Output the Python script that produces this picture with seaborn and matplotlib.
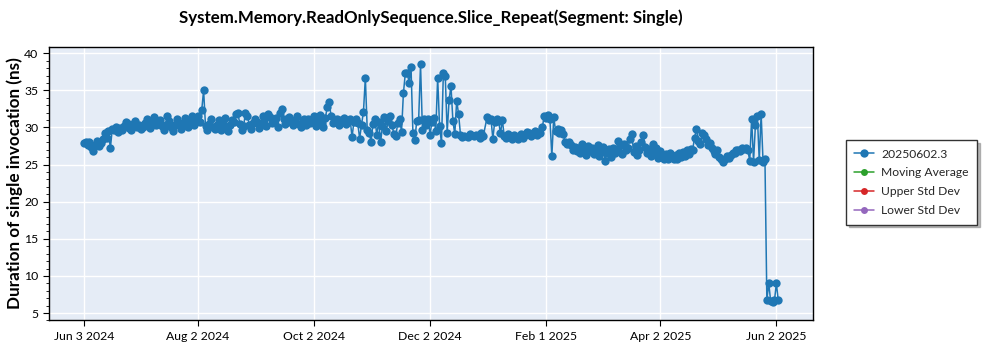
import numpy as np
import pandas as pd
import matplotlib
matplotlib.use("Agg")
import matplotlib.pyplot as plt
import matplotlib.dates as mdates
from matplotlib.ticker import FuncFormatter, MultipleLocator
import seaborn as sns

title = "System.Memory.ReadOnlySequence.Slice_Repeat(Segment: Single)"
y_label = "Duration of single invocation (ns)"
series_name = "20250602.3"
other_series = ["Moving Average", "Upper Std Dev", "Lower Std Dev"]
other_colors = ["#2ca02c", "#d62728", "#9467bd"]
start_date = "2024-06-03"

# one value per day from start_date (None = no run that day)
values = [
    27.9, 28.1, 27.6, 28.0, 27.4, 26.8, 27.7, 28.2, 27.5, 27.9,
    28.4, 29.2, 28.6, 29.5, 27.2, 29.8, 29.6, 30.0, 29.4, 29.9,
    29.7, 30.2, 30.8, 30.6, 29.9, 29.6, 30.5, 30.9, 30.1, 30.4,
    29.8, 30.0, 30.6, 31.2, 30.5, 29.9, 30.7, 31.4, 30.3, 30.8,
    31.0, 30.2, 29.6, 30.4, 31.5, 30.9, 30.1, 29.5, 30.3, 31.1,
    30.6, 29.8, 30.5, 31.3, 30.7, 30.0, 30.9, 31.5, 30.4, 31.0,
    31.6, 30.8, 32.3, 35.0, 30.2, 29.6, 30.5, 31.2, 30.0, 29.8,
    30.4, 31.0, 29.7, 30.6, 31.3, 30.1, 29.5, 30.3, 31.0, 30.8,
    31.8, 32.0, 30.5, 29.7, 30.2, 31.9, 31.6, 30.4, 29.8, 30.6,
    31.2, 30.7, 29.9, 30.3, 31.5, 31.0, 30.2, 31.8, 31.4, 30.6,
    30.9, 31.3, 30.1, 32.0, 32.5, 31.2, 30.5, 30.8, 31.4, 30.7,
    30.3, 31.0, 31.6, 30.5, 30.0, 30.9, 31.2, 30.4, 31.1, 30.6,
    30.8, 31.5, 30.2, 31.0, 31.7, 30.6, 30.1, 31.3, 32.8, 33.4,
    31.5, 30.6, 30.9, 31.2, 30.4, 31.0, 30.7, 31.3, 30.5, 30.9,
    31.1, 28.7, 30.8, 31.2, 30.6, 28.5, 30.4, 32.1, 36.7, 29.6,
    29.3, 28.1, 30.5, 31.2, 29.0, 30.8, 28.0, 30.2, 31.4, 29.5,
    30.9, 31.5, 30.3, 29.1, 28.8, 30.6, 31.2, 29.4, 34.6, 37.3,
    37.4, 36.0, 38.1, 29.2, 28.3, 30.9, 31.0, 38.5, 29.6, 31.1,
    30.4, 31.2, 29.0, 30.8, 31.3, 29.5, 36.7, 30.2, 27.9, 37.4,
    36.9, 29.3, 33.7, 35.6, 30.9, 29.1, 33.6, 31.8, 29.0, 28.7,
    28.9, None, 28.7, 29.1, None, 28.8, 29.0, None, 28.6, 29.2,
    28.9, None, 31.4, 31.0, 31.2, 28.5, 30.8, 31.1, 30.9, 29.2,
    31.0, 28.8, 28.6, 29.1, 28.8, 28.5, 29.0, 28.7, 28.4, 28.9,
    29.1, 28.6, 29.0, 29.4, 29.2, 28.8, 29.3, 29.5, 29.0, 29.4,
    29.3, 30.0, 31.6, 31.3, 31.7, 31.2, 26.1, 31.4, 29.5, 29.8,
    29.3, 29.6, 29.1, 28.0, 27.8, 28.1, 27.6, 27.0, 27.4, 26.8,
    27.2, 26.5, 27.8, 26.9, 26.3, 27.5, 26.8, 27.3, 26.4, 26.9,
    27.6, 26.2, 26.7, 27.4, 25.5, 26.6, 27.1, 26.0, 27.3, 26.5,
    27.0, 28.2, 27.6, 26.4, 27.8, 26.9, 27.2, 28.4, 29.1, 26.7,
    27.5, 26.3, 27.0, 28.0, 29.0, 27.4, 26.6, 27.1, 26.2, 27.8,
    26.5, 27.2, 25.9, 26.8, 26.1, 25.7, 26.4, 25.8, 26.6, 26.0,
    25.8, 26.3, 25.7, 26.5, 26.0, 26.7, 26.2, 26.9, 26.4, 27.1,
    27.0, 28.6, 29.8, 28.2, 27.8, 29.3, 29.0, 28.4, 27.6, 27.9,
    27.2, 26.8, 26.4, 26.9, 26.0, 25.7, 25.4, 25.8, 26.1, 25.9,
    26.3, 26.6, 26.5, 26.9, 27.0, 26.8, 27.2, 27.1, 27.3, 27.0,
    25.5, 31.2, 25.4, 30.4, 31.6, 25.6, 31.8, 25.4, 25.7, 6.8,
    9.0, 6.6, 6.5, 6.7, 9.0, 6.7,
]

x_tick_dates = ["2024-06-03", "2024-08-02", "2024-10-02", "2024-12-02",
                "2025-02-01", "2025-04-02", "2025-06-02"]
y_ticks = [5, 10, 15, 20, 25, 30, 35, 40]

dates = pd.date_range(start_date, periods=len(values), freq="D")
df = pd.DataFrame({"date": dates, "value": values}).dropna()
df["value"] = df["value"].astype(float)

sns.set_style("darkgrid", {"axes.facecolor": "#E5ECF6", "grid.color": "white"})
plt.rcParams["font.family"] = ["Lato", "DejaVu Sans"]

fig = plt.figure(figsize=(10, 3.5), dpi=100)
ax = fig.add_axes([0.049, 0.0843, 0.764, 0.7827])

sns.lineplot(data=df, x="date", y="value", ax=ax, color="#1f77b4",
             marker="o", markersize=6, markeredgewidth=0, linewidth=1.1,
             label=series_name, estimator=None, sort=False)
for name, c in zip(other_series, other_colors):
    ax.plot([], [], color=c, marker="o", markersize=5, markeredgewidth=0,
            linewidth=1.1, label=name)

ax.set_ylim(4.0, 40.9)
ax.set_yticks(y_ticks)
ax.yaxis.set_minor_locator(MultipleLocator(1))
ax.set_xticks(pd.to_datetime(x_tick_dates))
ax.xaxis.set_major_formatter(FuncFormatter(
    lambda v, p: (lambda d: f"{d:%b} {d.day} {d.year}")(mdates.num2date(v))))
ax.grid(which="major", color="white", linewidth=1)
ax.grid(which="minor", visible=False)

for s in ax.spines.values():
    s.set_visible(True)
    s.set_color("black")
    s.set_linewidth(1)

ax.tick_params(which="both", bottom=True, left=True, direction="out", color="black",
               labelsize=8.8, labelcolor="black")
ax.tick_params(which="major", length=4, width=0.8)
ax.tick_params(which="minor", length=2, width=0.6)

ax.set_xlabel("")
ax.set_ylabel(y_label, fontsize=12.3, fontweight="bold", color="black")
ax.yaxis.set_label_coords(-0.034, 0.5)

fig.text(0.431, 0.949, title, ha="center", va="center", fontsize=12.2,
         fontweight="bold", color="black")

leg = ax.legend(loc="center", bbox_to_anchor=(0.9115, 0.479),
                bbox_transform=fig.transFigure, frameon=True,
                shadow={"color": "0.55", "alpha": 0.6}, fancybox=False,
                edgecolor="#333333", facecolor="white", framealpha=1,
                fontsize=8.7, handlelength=1.6, handletextpad=0.6,
                borderpad=0.7, labelspacing=0.65)
leg.get_frame().set_linewidth(1)

fig.savefig("out.png", dpi=100)
